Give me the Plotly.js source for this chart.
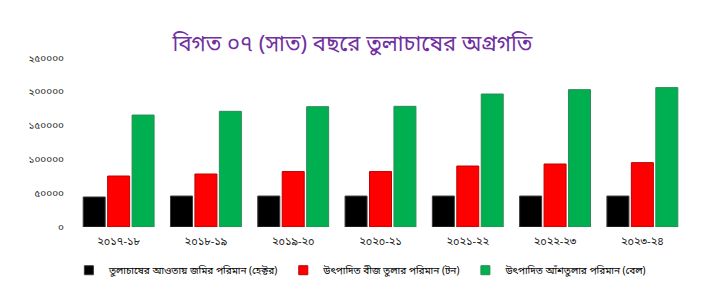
<!DOCTYPE html>
<html>
<head>
<meta charset="utf-8">
<script src="https://cdn.plot.ly/plotly-3.0.1.min.js"></script>
<style>html,body{margin:0;padding:0;background:#fff;}#chart{width:705px;height:307px;}</style>
</head>
<body>
<div id="chart"></div>
<script>
const years = ["২০১৭-১৮","২০১৮-১৯","২০১৯-২০","২০২০-২১","২০২১-২২","২০২২-২৩","২০২৩-২৪"];
const seriesNames = [
  "তুলাচাষের আওতায় জমির পরিমান (হেক্টর)",
  "উৎপাদিত বীজ তুলার পরিমান (টন)",
  "উৎপাদিত আঁশতুলার পরিমান (বেল)"
];
const areaHectare = [44400, 45800, 45800, 45800, 45800, 45800, 45800];
const seedCottonTon = [75400, 78400, 82000, 82000, 90200, 93200, 95200];
const lintBale = [165600, 171100, 178000, 178500, 196700, 203200, 206200];
const tickVals = [0, 50000, 100000, 150000, 200000, 250000];
const tickText = ["০","৫০০০০","১০০০০০","১৫০০০০","২০০০০০","২৫০০০০"];

const colors = ["#000000", "#FF0000", "#00B050"];
const edge = ["#3a3a3a", "#C00000", "#2E8B57"];
const values = [areaHectare, seedCottonTon, lintBale];
const bnFont = "'Noto Sans Bengali', 'Noto Sans', 'DejaVu Sans', sans-serif";

const traces = values.map((v, i) => ({
  type: "bar",
  x: years,
  y: v,
  name: seriesNames[i],
  showlegend: false,
  marker: {color: colors[i], line: {color: edge[i], width: 1}},
  hoverinfo: "x+y"
}));
// legend entries with small square symbols (no visible marks)
values.forEach((v, i) => traces.push({
  type: "scatter", mode: "markers",
  x: [null], y: [null],
  name: seriesNames[i],
  marker: {symbol: "square", size: 9, color: colors[i], line: {color: edge[i], width: 1}},
  showlegend: true
}));

const layout = {
  width: 705, height: 307,
  margin: {l: 75, r: 19, t: 58, b: 80},
  paper_bgcolor: "#ffffff",
  plot_bgcolor: "#ffffff",
  title: {
    text: "বিগত ০৭ (সাত) বছরে তুলাচাষের অগ্রগতি",
    font: {family: bnFont, size: 22, color: "#7030A0"},
    x: 0.5, xanchor: "center", y: 0.86, yanchor: "middle"
  },
  barmode: "group",
  bargap: 0.16,
  bargroupgap: 0.1,
  xaxis: {
    showgrid: false, zeroline: false, showline: false,
    tickfont: {family: bnFont, size: 11, color: "#222"},
    ticks: "", ticklabelstandoff: 6
  },
  yaxis: {
    range: [0, 250000],
    tickvals: tickVals, ticktext: tickText,
    showgrid: false, zeroline: false, showline: false,
    tickfont: {family: bnFont, size: 10, color: "#222"},
    ticks: "", ticklabelstandoff: 10
  },
  legend: {
    orientation: "h",
    x: -0.01, xanchor: "left",
    y: -0.17, yanchor: "top",
    font: {family: bnFont, size: 10, color: "#000"},
    itemwidth: 30,
    traceorder: "normal"
  },
  showlegend: true
};

Plotly.newPlot("chart", traces, layout, {displayModeBar: false, staticPlot: true});
</script>
</body>
</html>
